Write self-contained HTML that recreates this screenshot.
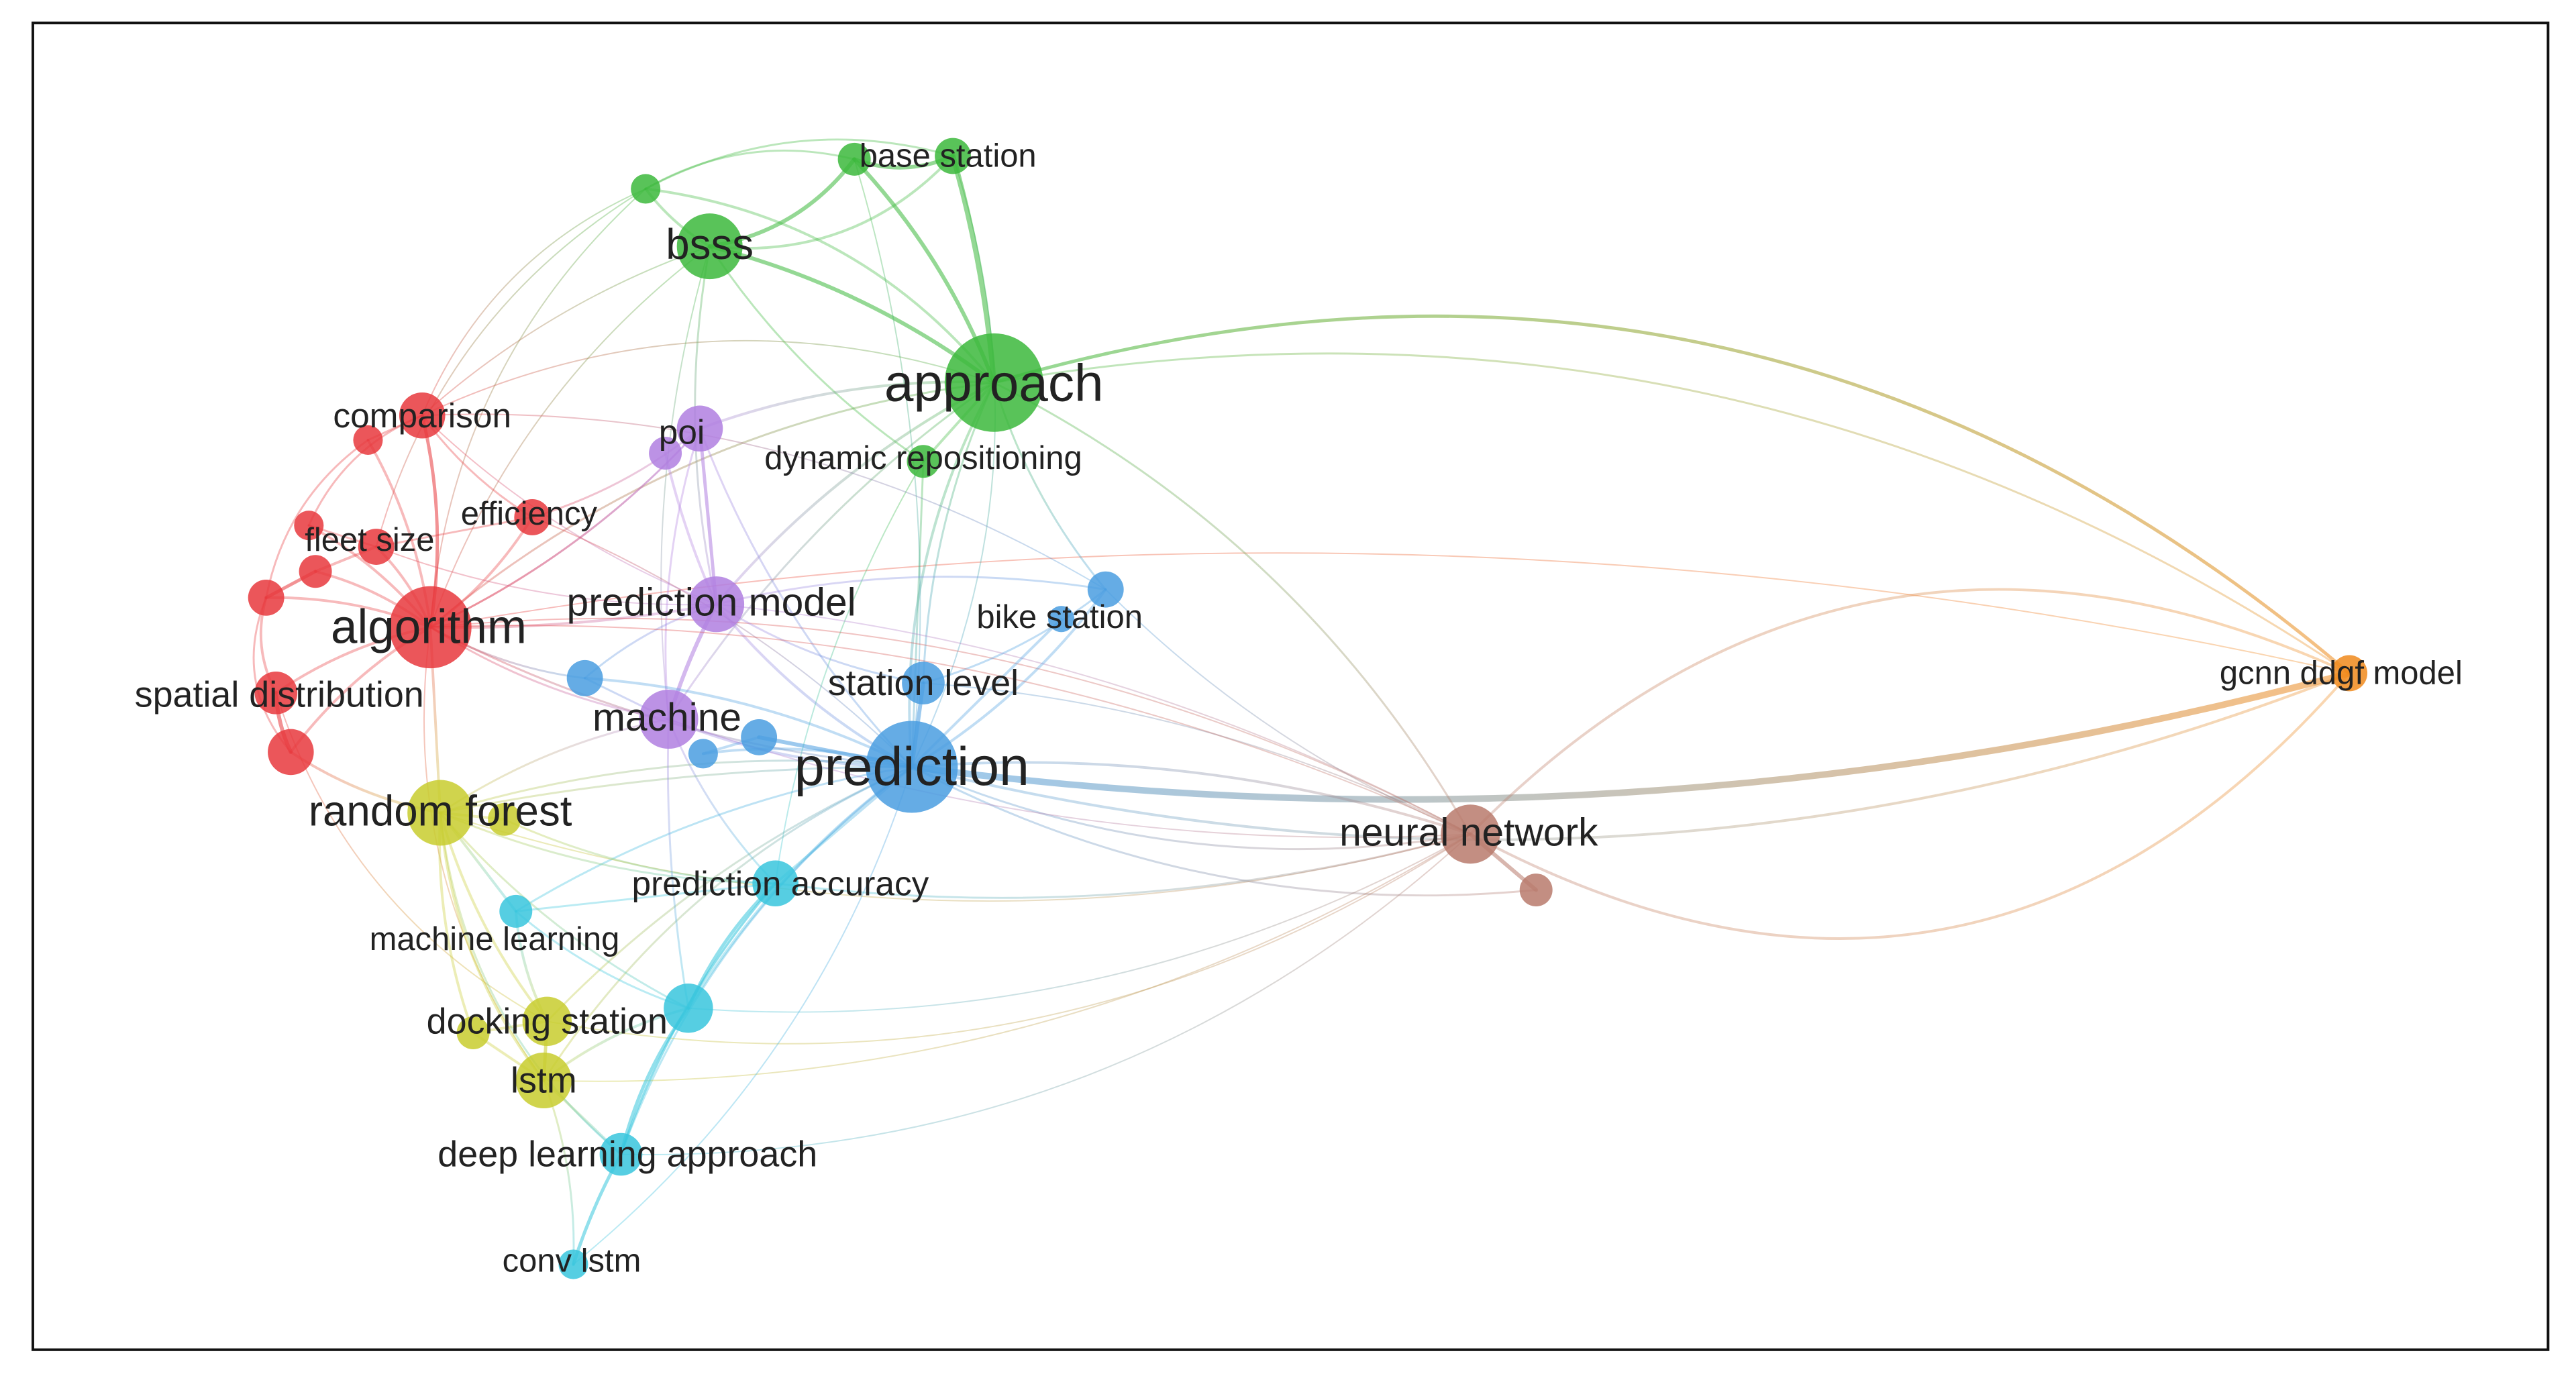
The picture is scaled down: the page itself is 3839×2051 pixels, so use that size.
<!DOCTYPE html>
<html><head><meta charset="utf-8"><style>
html,body{margin:0;padding:0;background:#fff;}
svg{display:block;}
text{font-family:"Liberation Sans",sans-serif;fill:#222;text-anchor:middle;dominant-baseline:central;}
</style></head><body>
<svg id="s" width="3839" height="2051" viewBox="0 0 1568 838" preserveAspectRatio="none" xmlns="http://www.w3.org/2000/svg">
<rect x="0" y="0" width="1568" height="838" fill="#fff"/>
<rect x="20" y="14" width="1531" height="808" fill="none" stroke="#111" stroke-width="1.6"/>
<g id="edges" fill="none" stroke-linecap="round"></g>
<g id="nodes"></g>
<g id="labels">
<text x="577" y="95" font-size="20">base station</text>
<text x="432" y="149" font-size="26">bsss</text>
<text x="605" y="233" font-size="32">approach</text>
<text x="257" y="253" font-size="21">comparison</text>
<text x="415" y="263" font-size="21">poi</text>
<text x="562" y="279" font-size="20">dynamic repositioning</text>
<text x="322" y="313" font-size="20">efficiency</text>
<text x="225" y="329" font-size="20">fleet size</text>
<text x="433" y="367" font-size="24">prediction model</text>
<text x="645" y="376" font-size="20">bike station</text>
<text x="261" y="382" font-size="29">algorithm</text>
<text x="1425" y="410" font-size="20">gcnn ddgf model</text>
<text x="562" y="416" font-size="22">station level</text>
<text x="170" y="423" font-size="22">spatial distribution</text>
<text x="406" y="437" font-size="24">machine</text>
<text x="555" y="467" font-size="33">prediction</text>
<text x="268" y="494" font-size="26">random forest</text>
<text x="894" y="507" font-size="24">neural network</text>
<text x="475" y="538" font-size="21">prediction accuracy</text>
<text x="301" y="572" font-size="20">machine learning</text>
<text x="333" y="622" font-size="22">docking station</text>
<text x="331" y="658" font-size="22">lstm</text>
<text x="382" y="703" font-size="22">deep learning approach</text>
<text x="348" y="768" font-size="20">conv lstm</text>
</g>
</svg>
<script>
var C={r:"#e8383d",g:"#3cb93c",p:"#b07fe0",b:"#4a9de0",y:"#c8cc2e",c:"#38c6dd",n:"#b87a6c",o:"#f08a1c"};
var N=[
["bs1",520,97,10,"g"],["bs2",580,95,11,"g"],["g1",393,115,9,"g"],["bsss",432,150,20,"g"],["appr",605,233,30,"g"],["dyn",562,281,10,"g"],
["poi",426,261,14,"p"],["poi2",405,276,10,"p"],["pm",436,368,17,"p"],["mach",407,438,18,"p"],
["comp",257,253,14,"r"],["r2",224,268,9,"r"],["eff",324,315,11,"r"],["f1",188,320,9,"r"],["f2",192,348,10,"r"],["f3",229,333,11,"r"],["f4",162,364,11,"r"],["alg",262,382,25,"r"],["sd",168,422,13,"r"],["r3",177,458,14,"r"],
["b1",356,413,11,"b"],["b2",428,459,9,"b"],["b3",462,449,11,"b"],["sl",562,416,13,"b"],["bk",673,359,11,"b"],["bk2",646,377,8,"b"],["pred",555,467,28,"b"],
["rf",268,495,20,"y"],["y2",307,499,10,"y"],["ds",333,622,15,"y"],["y3",288,629,10,"y"],["lstm",331,658,17,"y"],
["pa",472,538,14,"c"],["ml",314,555,10,"c"],["c1",419,614,15,"c"],["dl",378,703,13,"c"],["cl",349,770,9,"c"],
["nn",895,508,18,"n"],["n2",935,542,10,"n"],["gc",1430,410,11,"o"]];
var M={};N.forEach(function(n){M[n[0]]=n;});
var E=[
["appr","gc",2.5,-0.27],["pred","gc",5,0.1],["nn","gc",2,-0.35],["nn","gc",2,0.4],["pred","gc",2,0.16],["alg","gc",1,-0.1],["appr","gc",1.5,-0.2],
["appr","bs1",3,0.1],["appr","bs2",4,0.05],["appr","bsss",3,0.1],["appr","g1",2,0.2],["bs1","bs2",3,0.2],["bsss","bs1",3,0.2],["bsss","bs2",2,0.25],["g1","bs1",1.5,-0.2],["g1","bs2",1.5,-0.2],["g1","bsss",2,0.1],["bsss","dyn",1.5,0.1],["appr","dyn",2,0],["appr","pred",2,0.15],["appr","sl",1.5,0.1],["appr","bk",1.5,0.1],["appr","pm",2,0.1],["appr","alg",1.5,0.15],["appr","nn",1.5,-0.15],["appr","mach",1.5,0.1],["bs2","pred",1,-0.2],["bs1","pred",1,-0.1],["appr","comp",1,0.2],["bsss","pm",1.5,0.1],["bsss","alg",1,0.15],["g1","comp",1,0.2],["g1","alg",1,0.2],["bsss","comp",1,0.1],["appr","poi",2,0.1],["dyn","pred",1.5,0],["dyn","pa",1,0.1],["bsss","mach",1,0.1],["g1","f3",1,0.2],
["alg","comp",2.5,0.1],["alg","eff",2,0.1],["alg","f1",2,0.1],["alg","f2",2,0.1],["alg","f3",2,0.1],["alg","f4",2,0.1],["alg","sd",2,0.1],["alg","r3",2,0.1],["alg","r2",2,0.1],["f4","f2",2.5,0],["f2","f3",2,0],["f1","f3",1.5,0],["f4","sd",2,0.2],["sd","r3",3,0.1],["f4","r3",1.5,0.3],["comp","r2",1.5,0],["comp","f1",1.5,0.2],["comp","eff",1.5,0.1],["r2","f4",1.5,0.2],["eff","f3",1.5,0],["eff","poi",1.5,0.1],["comp","pm",1,0.1],["alg","pm",2,0.05],["alg","pred",1.5,0.1],["alg","b1",1.5,0.1],["alg","rf",2,0],["r3","rf",2,0.1],["alg","mach",1.5,0.1],["alg","poi",1.5,0.1],["eff","pred",1,-0.1],["alg","nn",1,-0.15],["comp","bk",1,-0.15],["f3","pm",1,0.1],["sd","ds",1,0.2],["alg","lstm",1,0.2],
["poi","pm",2.5,0],["poi2","pm",2,0.05],["pm","mach",3,0.05],["poi","mach",1.5,0.1],["pm","pred",2,0.1],["mach","pred",2,0.1],["pm","sl",1.5,0.1],["mach","pa",1.5,0.1],["poi","pred",1.5,0.1],["pm","b1",1.5,0.1],["pm","bk",1.5,-0.1],["mach","rf",1.5,0.1],["poi","alg",1.5,-0.1],["pm","nn",1,-0.1],
["pred","sl",3,0],["pred","b3",3,0],["pred","b2",2,0.1],["pred","b1",2,0.1],["pred","bk",2,0.1],["pred","bk2",2,0],["sl","bk",1.5,0.1],["pred","pa",2,0],["pred","nn",2,-0.1],["pred","nn",1.5,0.15],["pred","n2",1.5,0.15],["b3","b2",2,0],["sl","nn",1,-0.1],["pred","rf",1.5,0.1],["pred","lstm",1.5,0.15],["pred","c1",2,0.1],["pred","dl",1.5,0.15],["pred","ds",1.5,0.1],["b1","mach",1.5,0],["pred","ml",1.5,0.1],["bk","nn",1,0.1],
["rf","y2",2,0],["rf","ds",2,0.1],["rf","lstm",2,0.15],["rf","y3",2,0.1],["rf","ml",2,0],["ds","lstm",2.5,0],["ds","y3",2,0],["y3","lstm",2,0],["rf","dl",1.5,0.2],["rf","pa",1.5,0.1],["rf","nn",1,0.15],["lstm","nn",1,0.15],["ds","nn",1,0.2],["rf","c1",1.5,0.1],["y2","pa",1.5,0.1],["rf","pred",1.5,-0.05],
["pa","c1",2.5,0.1],["c1","dl",2.5,0.1],["dl","cl",2.5,0.05],["pa","dl",2,0.1],["ml","c1",1.5,0.1],["ml","pa",1.5,0],["c1","lstm",2,0.1],["dl","lstm",2,0],["c1","nn",1,0.15],["dl","nn",1,0.2],["pa","nn",1.5,0.1],["cl","lstm",1.5,0.1],["mach","c1",1.5,0.05],["ml","ds",2,0.1],["cl","pred",1,0.15],["dl","pa",1.5,-0.1],
["nn","n2",3,0],["nn","mach",1,-0.1],["nn","alg",1,0.12]];
var eg=document.getElementById("edges"),ng=document.getElementById("nodes"),ns="http://www.w3.org/2000/svg";
var defs=document.createElementNS(ns,"defs");document.getElementById("s").insertBefore(defs,eg);
E.forEach(function(e,i){var a=M[e[0]],b=M[e[1]];var dx=b[1]-a[1],dy=b[2]-a[2];
var mx=(a[1]+b[1])/2-dy*e[3],my=(a[2]+b[2])/2+dx*e[3];
var gid="g"+i,gr=document.createElementNS(ns,"linearGradient");gr.setAttribute("id",gid);gr.setAttribute("gradientUnits","userSpaceOnUse");
gr.setAttribute("x1",a[1]);gr.setAttribute("y1",a[2]);gr.setAttribute("x2",b[1]);gr.setAttribute("y2",b[2]);
gr.innerHTML='<stop offset="0" stop-color="'+C[a[4]]+'"/><stop offset="1" stop-color="'+C[b[4]]+'"/>';defs.appendChild(gr);
var p=document.createElementNS(ns,"path");p.setAttribute("d","M"+a[1]+" "+a[2]+"Q"+mx+" "+my+" "+b[1]+" "+b[2]);
p.setAttribute("stroke","url(#"+gid+")");p.setAttribute("stroke-width",e[2]*0.8);p.setAttribute("stroke-opacity",e[2]>=2.5?0.55:0.35);eg.appendChild(p);});
N.forEach(function(n){var c=document.createElementNS(ns,"circle");c.setAttribute("cx",n[1]);c.setAttribute("cy",n[2]);c.setAttribute("r",n[3]);c.setAttribute("fill",C[n[4]]);c.setAttribute("fill-opacity",0.85);ng.appendChild(c);});
</script>
</body></html>
